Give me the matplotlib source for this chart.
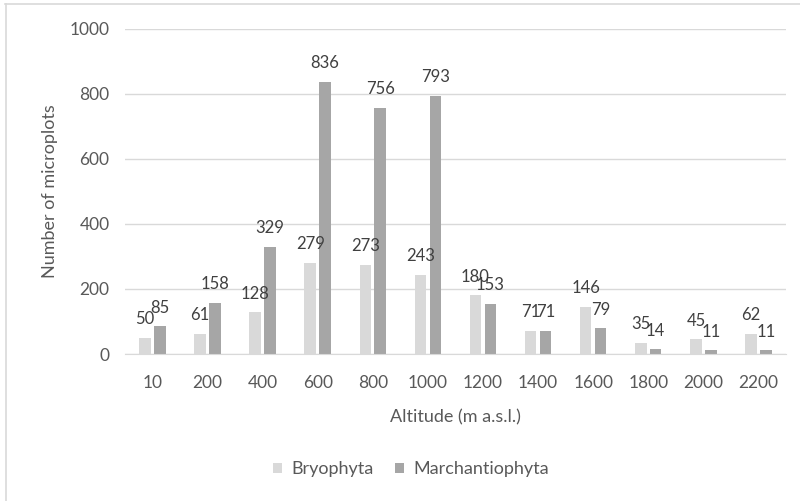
import matplotlib.pyplot as plt
import numpy as np
from matplotlib.lines import Line2D

# Datos
altitudes = ['10', '200', '400', '600', '800', '1000', '1200', '1400', '1600', '1800', '2000', '2200']
bryophyta = [50, 61, 128, 279, 273, 243, 180, 71, 146, 35, 45, 62]
marchantiophyta = [85, 158, 329, 836, 756, 793, 153, 71, 79, 14, 11, 11]

plt.rcParams['font.family'] = ['Lato', 'DejaVu Sans']

fig = plt.figure(figsize=(8, 5.01), dpi=100)
ax = fig.add_axes([0.156, 0.2934, 0.8265, 0.6493])

x = np.arange(len(altitudes))
ancho = 0.21
desplaz = 0.135

b1 = ax.bar(x - desplaz, bryophyta, ancho, color='#d9d9d9', label='Bryophyta', zorder=2)
b2 = ax.bar(x + desplaz, marchantiophyta, ancho, color='#a6a6a6', label='Marchantiophyta', zorder=2)

# Etiquetas de datos encima de cada barra
for barras, valores in [(b1, bryophyta), (b2, marchantiophyta)]:
    for rect, v in zip(barras, valores):
        ax.annotate(str(v), (rect.get_x() + rect.get_width() / 2, v),
                    xytext=(0, 13.5), textcoords='offset points',
                    ha='center', va='center', fontsize=12, color='#404040')

ax.set_xlim(-0.5, len(altitudes) - 0.5)
ax.set_ylim(0, 1000)
ax.set_yticks([0, 200, 400, 600, 800, 1000])
ax.set_xticks(x)
ax.set_xticklabels(altitudes)
ax.yaxis.grid(True, color='#d9d9d9', linewidth=1, zorder=0)
ax.set_axisbelow(True)
for lado in ['top', 'right', 'left']:
    ax.spines[lado].set_visible(False)
ax.spines['bottom'].set_color('#d9d9d9')
ax.tick_params(length=0, labelsize=12.5, colors='#595959')
ax.tick_params(axis='x', pad=15)
ax.tick_params(axis='y', pad=11)

ax.set_xlabel('Altitude (m a.s.l.)', fontsize=13, color='#595959', labelpad=13)
ax.set_ylabel('Number of microplots', fontsize=13, color='#595959', labelpad=8)

leg = fig.legend(handles=[b1, b2], loc='center', bbox_to_anchor=(0.514, 0.063), ncol=2,
                 frameon=False, fontsize=13, handlelength=0.5, handleheight=0.5,
                 columnspacing=1.2, handletextpad=0.5, labelcolor='#595959')

# Borde del area del grafico
fig.add_artist(Line2D([5 / 800, 1], [1 - 3.5 / 501, 1 - 3.5 / 501], color='#d9d9d9', lw=1.2))
fig.add_artist(Line2D([5.5 / 800, 5.5 / 800], [0, 1 - 3.5 / 501], color='#d9d9d9', lw=1.2))

fig.savefig('out.png', dpi=100, facecolor='white')
